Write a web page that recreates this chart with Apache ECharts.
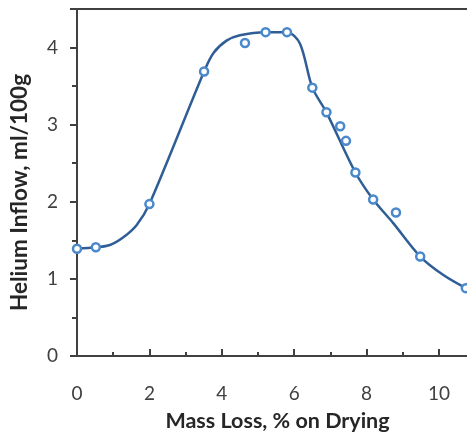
<!DOCTYPE html>
<html><head><meta charset="utf-8">
<script src="https://cdn.jsdelivr.net/npm/echarts@6/dist/echarts.min.js"></script>
<style>html,body{margin:0;padding:0;background:#fff}#c{width:467px;height:434px}</style>
</head><body><div id="c"></div>
<script>
const massLoss = [0, 0.52, 2, 3.51, 4.64, 5.21, 5.8, 6.5, 6.89, 7.27, 7.43, 7.69, 8.18, 8.81, 9.48, 10.74];
const heliumInflow = [1.39, 1.41, 1.97, 3.69, 4.06, 4.2, 4.2, 3.48, 3.16, 2.98, 2.79, 2.38, 2.03, 1.86, 1.29, 0.88];
// fitted curve
const curveX = [0, 0.52, 0.91, 1.28, 1.65, 2, 3.51, 3.77, 4.13, 4.5, 5.21, 5.8, 6.16, 6.5, 6.89, 7.69, 8.18, 8.74, 9.48, 10.12, 10.74];
const curveY = [1.39, 1.41, 1.44, 1.54, 1.70, 1.97, 3.69, 3.93, 4.09, 4.16, 4.2, 4.2, 4.05, 3.48, 3.16, 2.38, 2.03, 1.72, 1.29, 1.05, 0.88];
const xTitle = 'Mass Loss, % on Drying';
const yTitle = 'Helium Inflow, ml/100g';

const chart = echarts.init(document.getElementById('c'));
const axisCol = '#404040';
const font = 'Lato, "Open Sans", sans-serif';
chart.setOption({
  animation: false,
  grid: {left: 77, top: 9, right: -1, bottom: 78, containLabel: false, outerBoundsMode: 'none'},
  xAxis: [{
    type: 'value', min: 0, max: 10.8, interval: 2,
    axisLine: {show: true, lineStyle: {color: axisCol, width: 2}},
    axisTick: {show: true, inside: true, length: 7, lineStyle: {color: axisCol, width: 2}},
    minorTick: {show: true, splitNumber: 2, length: 4, lineStyle: {color: axisCol, width: 2}},
    splitLine: {show: false},
    axisLabel: {color: axisCol, fontSize: 19, fontFamily: font, margin: 28, showMaxLabel: false},
    name: xTitle, nameLocation: 'middle', nameGap: 54, nameMoveOverlap: false,
    nameTextStyle: {color: '#262626', fontSize: 21.5, fontWeight: 'bold', fontFamily: font, padding: [0, 0, 0, 10]}
  }, {
    type: 'value', min: 0, max: 10.8, position: 'top',
    axisLine: {show: true, onZero: false, lineStyle: {color: axisCol, width: 2}},
    axisTick: {show: false}, axisLabel: {show: false}, splitLine: {show: false}
  }],
  yAxis: {
    type: 'value', min: 0, max: 4.5, interval: 1,
    axisLine: {show: true, lineStyle: {color: axisCol, width: 2}},
    axisTick: {show: true, inside: false, length: 7, lineStyle: {color: axisCol, width: 2}},
    minorTick: {show: true, splitNumber: 2, length: 5, lineStyle: {color: axisCol, width: 2}},
    splitLine: {show: false},
    axisLabel: {color: axisCol, fontSize: 19, fontFamily: font, margin: 19, showMaxLabel: false},
    name: yTitle, nameLocation: 'middle', nameGap: 46, nameRotate: 90, nameMoveOverlap: false,
    nameTextStyle: {color: '#262626', fontSize: 22.5, fontWeight: 'bold', fontFamily: font, padding: [0, 20, 0, 0]}
  },
  series: [{
    type: 'line', data: curveX.map((x, i) => [x, curveY[i]]),
    smooth: 0.3, showSymbol: false, symbol: 'none',
    lineStyle: {color: '#2f5d96', width: 2.5}, z: 2, silent: true
  }, {
    type: 'scatter', data: massLoss.map((x, i) => [x, heliumInflow[i]]),
    symbol: 'circle', symbolSize: 8,
    itemStyle: {color: '#fff', borderColor: '#4a88cc', borderWidth: 2.5, opacity: 1}, z: 3
  }]
});
</script></body></html>
